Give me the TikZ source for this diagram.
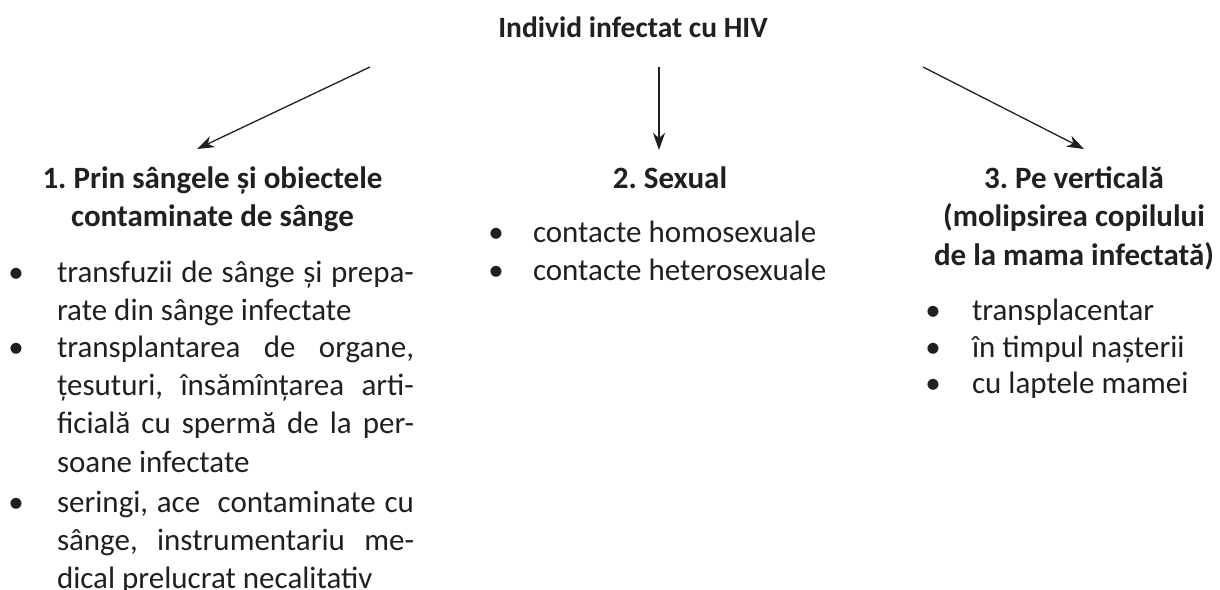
\documentclass[tikz,border=0pt]{standalone}
\usepackage{fontspec}
\setmainfont{Carlito}
\usetikzlibrary{arrows.meta}
\definecolor{ink}{HTML}{231F20}
\newcommand{\jl}[1]{\makebox[357pt][s]{#1}}
\frenchspacing
\begin{document}
\frenchspacing
\begin{tikzpicture}[x=1pt,y=-1pt,
  every node/.style={inner sep=0pt, outer sep=0pt, text=ink},
  titlebox/.style={font=\fontsize{29.5}{36}\selectfont\bfseries, anchor=base},
  headbox/.style={font=\fontsize{31}{38.5}\selectfont\bfseries, align=center, anchor=base},
  bodybox/.style={font=\fontsize{31}{38.4}\selectfont, align=left, anchor=base west},
  dotbox/.style={font=\fontsize{31}{38.4}\selectfont, anchor=base},
  arr/.style={draw=ink, line width=1.3pt, -{Stealth[length=17pt, width=12pt, inset=5pt]}}]
\useasboundingbox (0,0) rectangle (1220,589);

\node[titlebox] (title) at (633,37) {Individ infectat cu HIV};

% arrows
\coordinate (s1) at (370,67);
\coordinate (e1) at (197,149);
\coordinate (s2) at (659,67);
\coordinate (e2) at (659,150);
\coordinate (s3) at (923,67);
\coordinate (e3) at (1084,149);
\draw[arr] (s1) -- (e1);
\draw[arr] (s2) -- (e2);
\draw[arr] (s3) -- (e3);

% headings (anchor base = last line baseline)
\node[headbox] (h1) at (212.5,226.5) {1. Prin sângele și obiectele\\contaminate de sânge};
\node[headbox] (h2) at (670,188) {2. Sexual};
\node[headbox] (h3) at (1074,265) {3. Pe verticală\\(molipsirea copilului\\de la mama infectată)};

% column 1
\node[dotbox] (d11) at (16,282) {•};
\node[bodybox] (b11) at (57,320.4) {\jl{transfuzii de sânge și prepa-}\\rate din sânge infectate};
\node[dotbox] (d12) at (16,357) {•};
\node[bodybox] (b12) at (57,472.2) {\jl{transplantarea de organe,}\\\jl{țesuturi, însămînțarea arti-}\\\jl{ficială cu spermă de la per-}\\soane infectate};
\node[dotbox] (d13) at (16,512) {•};
\node[bodybox] (b13) at (57,588.8) {\jl{seringi, ace\ \ contaminate cu}\\\jl{sânge, instrumentariu me-}\\dical prelucrat necalitativ};

% column 2
\node[dotbox] (d21) at (496,242) {•};
\node[bodybox] (b21) at (533,242) {contacte homosexuale};
\node[dotbox] (d22) at (496,280) {•};
\node[bodybox] (b22) at (533,280) {contacte heterosexuale};

% column 3
\node[dotbox] (d31) at (933,320) {•};
\node[bodybox] (b31) at (972,320) {transplacentar};
\node[dotbox] (d32) at (933,357) {•};
\node[bodybox] (b32) at (972,357) {în timpul nașterii};
\node[dotbox] (d33) at (933,393) {•};
\node[bodybox] (b33) at (972,393) {cu laptele mamei};
\end{tikzpicture}
\end{document}
